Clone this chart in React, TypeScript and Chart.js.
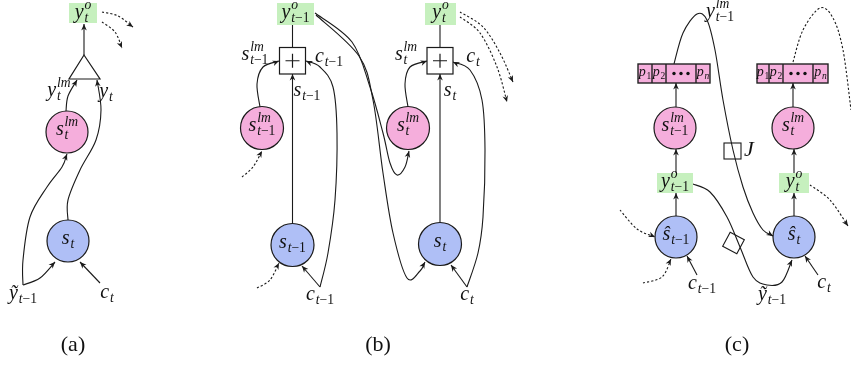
import { useEffect, useRef } from "react";
import { Chart, registerables } from "chart.js";
Chart.register(...registerables);

type P = [number, number];

// ---- node data (diagram coordinates) ----
const circleNodes: [number, number, number, string][] = [
  [67, 132, 21, "pink"], [68, 241, 21, "blue"],
  [262, 128, 21.5, "pink"], [292.5, 245, 21.5, "blue"],
  [408, 128, 21.5, "pink"], [440, 244, 21.5, "blue"],
  [675, 128, 21, "pink"], [793, 128, 21, "pink"],
  [676, 237, 21, "blue"], [794, 237, 21, "blue"],
];
const greenBoxes: [number, number, number, number][] = [
  [69, 3, 97, 23], [277, 3, 314, 25], [425, 3, 456, 25],
  [657, 173, 693, 193], [779, 173, 809, 193],
];
const plusBoxes: [number, number, number, number][] = [
  [279.5, 47.5, 305.5, 74], [427, 47.5, 453, 74],
];
const triangleNode: number[] = [84, 55, 69, 79, 100, 79];
const pVectorCells: number[][] = [
  [638, 652, 666, 696, 710], [757, 769, 783, 813, 828],
];
const pVectorRows: number[] = [64, 83];
const jBox: number[] = [724, 143, 741, 159];
const diamondNode: number[] = [733.5, 243, 16, 28];

// ---- edges: [points, dotted, arrow] ----
const edges: [P[], boolean, boolean][] = [
  // (a)
  [[[84, 55], [84, 24]], false, true],
  [[[66, 111], [68, 96], [77, 80]], false, true],
  [[[68, 220], [68, 200], [80, 170], [96, 140], [101, 110], [97, 80]], false, true],
  [[[23, 285], [23, 260], [30, 217], [47, 187], [62, 167], [67, 154]], false, true],
  [[[23, 285], [40, 278], [55, 262]], false, true],
  [[[100, 283], [80, 262]], false, true],
  [[[102, 12], [118, 16], [133, 27]], true, true],
  [[[102, 22], [115, 32], [122, 48]], true, true],
  // (b)
  [[[292.5, 47.5], [292.5, 25]], false, false],
  [[[260, 107], [257, 84], [263, 67], [279, 61]], false, true],
  [[[292.5, 223], [292.5, 74]], false, true],
  [[[242, 177], [253, 167], [262, 151]], true, true],
  [[[257, 288], [270, 280], [279, 263]], true, true],
  [[[320, 287], [302, 266]], false, true],
  [[[320, 287], [328, 253], [335, 200], [337, 133], [333, 87], [320, 67], [306, 61]], false, true],
  [[[315, 13], [352, 42], [370, 87], [383, 133], [390, 163], [397, 175], [405, 167], [409, 151]], false, true],
  [[[316, 15], [359, 56], [373, 100], [383, 173], [393, 233], [407, 278], [420, 271], [425, 262]], false, true],
  [[[408, 107], [405, 84], [410, 67], [427, 61]], false, true],
  [[[440, 222], [440, 74]], false, true],
  [[[440, 47.5], [440, 25]], false, false],
  [[[467, 287], [451, 265]], false, true],
  [[[467, 287], [478, 253], [483, 217], [485, 150], [482, 100], [470, 70], [453, 62]], false, true],
  [[[460, 12], [483, 27], [500, 53], [513, 82]], true, true],
  [[[460, 17], [480, 33], [497, 67], [507, 102]], true, true],
  // (c)
  [[[676, 216], [676, 193]], false, true],
  [[[676, 173], [676, 149]], false, true],
  [[[676, 107], [676, 83]], false, true],
  [[[794, 216], [794, 193]], false, true],
  [[[794, 173], [794, 149]], false, true],
  [[[793, 107], [793, 83]], false, true],
  [[[674, 64], [683, 33], [697, 14], [707, 20], [715, 50], [723, 100], [733, 150], [743, 187], [753, 213], [763, 230], [773, 236]], false, true],
  [[[693, 184], [710, 192], [727, 217], [740, 247], [753, 277], [767, 285], [782, 282], [792, 260]], false, true],
  [[[697, 275], [687, 256]], false, true],
  [[[818, 275], [805, 256]], false, true],
  [[[620, 210], [637, 229], [655, 237]], true, true],
  [[[643, 283], [662, 277], [671, 259]], true, true],
  [[[793, 62], [803, 30], [820, 8], [833, 18], [843, 50], [851, 110]], true, false],
  [[[810, 185], [830, 200], [848, 226]], true, true],
];

// ---- labels: [x, y, base, sup, sub, size] ----
const mathLabels: [number, number, string, string, string, number][] = [
  [83, 14, "y", "o", "t", 20],
  [59, 92, "y", "lm", "t", 20],
  [106, 93, "y", "", "t", 20],
  [67, 131, "s", "lm", "t", 20],
  [68, 240, "s", "", "t", 20],
  [23, 295, "ỹ", "", "t−1", 20],
  [107, 294, "c", "", "t", 20],
  [295.5, 14, "y", "o", "t−1", 20],
  [255, 56, "s", "lm", "t−1", 20],
  [329, 58, "c", "", "t−1", 20],
  [262, 127, "s", "lm", "t−1", 20],
  [307, 92, "s", "", "t−1", 20],
  [292.5, 244, "s", "", "t−1", 20],
  [320, 296, "c", "", "t−1", 20],
  [440.5, 14, "y", "o", "t", 20],
  [406, 56, "s", "lm", "t", 20],
  [473, 58, "c", "", "t", 20],
  [408, 127, "s", "lm", "t", 20],
  [450, 92, "s", "", "t", 20],
  [440, 243, "s", "", "t", 20],
  [467, 296, "c", "", "t", 20],
  [720, 13, "y", "lm", "t−1", 20],
  [675, 127, "s", "lm", "t−1", 20],
  [793, 127, "s", "lm", "t", 20],
  [675, 183, "y", "o", "t−1", 20],
  [794, 183, "y", "o", "t", 20],
  [676, 236, "ŝ", "", "t−1", 20],
  [794, 236, "ŝ", "", "t", 20],
  [702, 285, "c", "", "t−1", 20],
  [824, 284, "c", "", "t", 20],
  [772, 296, "ỹ", "", "t−1", 20],
  [749, 151, "J", "", "", 22],
  [645, 73, "p", "", "1", 14],
  [659, 73, "p", "", "2", 14],
  [703, 73, "p", "", "n", 14],
  [763, 73, "p", "", "1", 14],
  [776, 73, "p", "", "2", 14],
  [820.5, 73, "p", "", "n", 14],
];
const panelLabels: [number, number, string][] = [
  [73, 345, "(a)"], [378, 345, "(b)"], [737, 345, "(c)"],
];

const FILL: Record<string, string> = { pink: "#F5AEDC", blue: "#AFBFF6", green: "#C6F0BE" };
const SERIF = '"Liberation Serif", "DejaVu Serif", serif';

function fontFor(ch: string, size: number) {
  return (/[A-Za-zỹŝ]/.test(ch) ? "italic " : "") + size + "px " + SERIF;
}
function richWidth(ctx: CanvasRenderingContext2D, s: string, size: number) {
  let w = 0;
  for (const ch of s) { ctx.font = fontFor(ch, size); w += ctx.measureText(ch).width; }
  return w;
}
function richDraw(ctx: CanvasRenderingContext2D, s: string, x: number, y: number, size: number) {
  let cx = x;
  for (const ch of s) {
    ctx.font = fontFor(ch, size);
    ctx.fillText(ch, cx, y);
    cx += ctx.measureText(ch).width;
  }
}

const diagramPlugin = {
  id: "diagram",
  afterDatasetsDraw(chart: any) {
    const ctx: CanvasRenderingContext2D = chart.ctx;
    const xs = chart.scales.x, ys = chart.scales.y;
    const px = (x: number) => xs.getPixelForValue(x);
    const py = (y: number) => ys.getPixelForValue(y);
    ctx.save();
    ctx.lineCap = "butt";
    ctx.lineJoin = "miter";
    ctx.strokeStyle = "#1a1a1a";
    ctx.fillStyle = "#1a1a1a";

    // edges
    for (const [ptsD, dotted, arrow] of edges) {
      const pts = ptsD.map(([x, y]) => [px(x), py(y)] as P);
      ctx.lineWidth = 1.1;
      ctx.setLineDash(dotted ? [2.2, 2] : []);
      ctx.beginPath();
      ctx.moveTo(pts[0][0], pts[0][1]);
      let from: P = pts[0];
      const n = pts.length;
      if (n === 2) {
        ctx.lineTo(pts[1][0], pts[1][1]);
      } else {
        for (let i = 0; i < n - 1; i++) {
          const p0 = pts[i - 1] || pts[i], p1 = pts[i], p2 = pts[i + 1], p3 = pts[i + 2] || pts[i + 1];
          const c1: P = [p1[0] + (p2[0] - p0[0]) / 6, p1[1] + (p2[1] - p0[1]) / 6];
          const c2: P = [p2[0] - (p3[0] - p1[0]) / 6, p2[1] - (p3[1] - p1[1]) / 6];
          ctx.bezierCurveTo(c1[0], c1[1], c2[0], c2[1], p2[0], p2[1]);
          from = c2;
        }
      }
      ctx.stroke();
      ctx.setLineDash([]);
      if (arrow) {
        const end = pts[n - 1];
        const a = Math.atan2(end[1] - from[1], end[0] - from[0]);
        const L = 6.5, W = 2.8;
        const bx = end[0] - L * Math.cos(a), by = end[1] - L * Math.sin(a);
        ctx.beginPath();
        ctx.moveTo(end[0], end[1]);
        ctx.lineTo(bx + W * Math.sin(a), by - W * Math.cos(a));
        ctx.lineTo(end[0] - 0.7 * L * Math.cos(a), end[1] - 0.7 * L * Math.sin(a));
        ctx.lineTo(bx - W * Math.sin(a), by + W * Math.cos(a));
        ctx.closePath();
        ctx.fill();
      }
    }

    // green boxes
    for (const [x0, y0, x1, y1] of greenBoxes) {
      ctx.fillStyle = FILL.green;
      ctx.fillRect(px(x0), py(y0), px(x1) - px(x0), py(y1) - py(y0));
    }
    // plus boxes
    ctx.lineWidth = 1.2;
    for (const [x0, y0, x1, y1] of plusBoxes) {
      ctx.fillStyle = "#fff";
      ctx.fillRect(px(x0), py(y0), px(x1) - px(x0), py(y1) - py(y0));
      ctx.strokeRect(px(x0), py(y0), px(x1) - px(x0), py(y1) - py(y0));
      const cx = (px(x0) + px(x1)) / 2, cy = (py(y0) + py(y1)) / 2;
      ctx.beginPath();
      ctx.moveTo(cx - 7, cy); ctx.lineTo(cx + 7, cy);
      ctx.moveTo(cx, cy - 7); ctx.lineTo(cx, cy + 7);
      ctx.stroke();
    }
    // triangle
    ctx.beginPath();
    ctx.moveTo(px(triangleNode[0]), py(triangleNode[1]));
    ctx.lineTo(px(triangleNode[2]), py(triangleNode[3]));
    ctx.lineTo(px(triangleNode[4]), py(triangleNode[5]));
    ctx.closePath();
    ctx.fillStyle = "#fff";
    ctx.fill();
    ctx.stroke();
    // p vectors
    for (const cells of pVectorCells) {
      const y0 = py(pVectorRows[0]), y1 = py(pVectorRows[1]);
      ctx.fillStyle = FILL.pink;
      ctx.fillRect(px(cells[0]), y0, px(cells[cells.length - 1]) - px(cells[0]), y1 - y0);
      ctx.lineWidth = 1.4;
      ctx.strokeStyle = "#222";
      ctx.strokeRect(px(cells[0]), y0, px(cells[cells.length - 1]) - px(cells[0]), y1 - y0);
      ctx.beginPath();
      for (let i = 1; i < cells.length - 1; i++) {
        ctx.moveTo(px(cells[i]), y0); ctx.lineTo(px(cells[i]), y1);
      }
      ctx.stroke();
      const mx = (px(cells[2]) + px(cells[3])) / 2, my = (y0 + y1) / 2;
      ctx.fillStyle = "#111";
      for (const d of [-7, 0, 7]) {
        ctx.beginPath(); ctx.arc(mx + d, my, 1.7, 0, Math.PI * 2); ctx.fill();
      }
    }
    ctx.strokeStyle = "#1a1a1a";
    ctx.lineWidth = 1.1;
    // J box
    ctx.strokeRect(px(jBox[0]), py(jBox[1]), px(jBox[2]) - px(jBox[0]), py(jBox[3]) - py(jBox[1]));
    // diamond
    {
      const [cx, cy, s, ang] = diamondNode;
      ctx.save();
      ctx.translate(px(cx), py(cy));
      ctx.rotate((ang * Math.PI) / 180);
      ctx.strokeRect(-s / 2, -s / 2, s, s);
      ctx.restore();
    }

    // math labels
    ctx.fillStyle = "#111";
    ctx.textBaseline = "alphabetic";
    ctx.textAlign = "left";
    for (const [x, y, base, sup, sub, size] of mathLabels) {
      const cx = px(x), cy = py(y);
      const ss = size * 0.68;
      const wb = richWidth(ctx, base, size);
      const wsc = Math.max(sup ? richWidth(ctx, sup, ss) : 0, sub ? richWidth(ctx, sub, ss) : 0);
      const total = wb + (wsc ? wsc + 0.8 : 0);
      const x0 = cx - total / 2;
      const bl = cy + size * 0.22;
      richDraw(ctx, base, x0, bl, size);
      if (sup) richDraw(ctx, sup, x0 + wb + 0.8, bl - size * 0.46, ss);
      if (sub) richDraw(ctx, sub, x0 + wb + 0.8, bl + size * 0.2, ss);
    }
    // panel labels
    ctx.font = "22px " + SERIF;
    ctx.textAlign = "center";
    ctx.textBaseline = "middle";
    for (const [x, y, t] of panelLabels) ctx.fillText(t, px(x), py(y));
    ctx.restore();
  },
};

export default function App() {
  const ref = useRef<HTMLCanvasElement>(null);
  useEffect(() => {
    const chart = new Chart(ref.current!, {
      type: "scatter",
      data: {
        datasets: [
          {
            data: circleNodes.map((c) => ({ x: c[0], y: c[1] })),
            pointRadius: circleNodes.map((c) => c[2]),
            pointHoverRadius: circleNodes.map((c) => c[2]),
            backgroundColor: circleNodes.map((c) => FILL[c[3]]),
            borderColor: "#1a1a1a",
            borderWidth: 1.2,
            clip: false,
          },
        ],
      },
      options: {
        responsive: false,
        animation: false,
        events: [],
        layout: { padding: 0, autoPadding: false },
        scales: {
          x: { type: "linear", min: 0, max: 851, display: false },
          y: { type: "linear", min: 0, max: 367, reverse: true, display: false },
        },
        plugins: { legend: { display: false }, tooltip: { enabled: false } },
      } as any,
      plugins: [diagramPlugin],
    });
    return () => chart.destroy();
  }, []);
  return (
    <div style={{ position: "fixed", left: 0, top: 0, width: 851, height: 367, background: "#fff" }}>
      <canvas ref={ref} width={851} height={367} style={{ display: "block" }} />
    </div>
  );
}
